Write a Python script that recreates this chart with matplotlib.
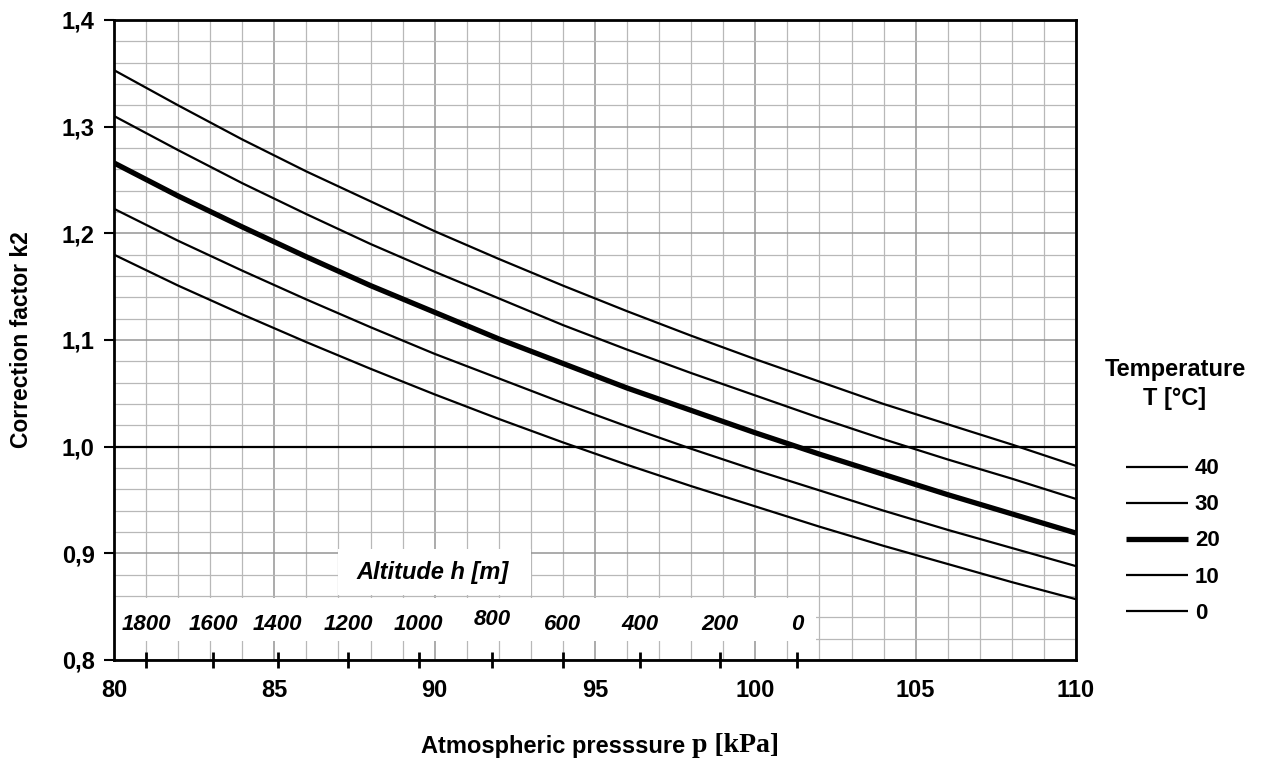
import numpy as np
import matplotlib.pyplot as plt
from matplotlib.patches import Rectangle
from matplotlib.ticker import MultipleLocator, FuncFormatter

# pressure values (kPa) where the curves were read
pressure = [80, 82, 84, 86, 88, 90, 92, 94, 96, 98, 100, 102, 104, 106, 108, 110]

# correction factor k2, one list per temperature
k2_t40 = [1.353, 1.320, 1.288, 1.258, 1.230, 1.202, 1.176, 1.151, 1.127, 1.104,
          1.082, 1.061, 1.040, 1.021, 1.002, 0.982]
k2_t30 = [1.310, 1.278, 1.247, 1.218, 1.190, 1.164, 1.139, 1.114, 1.091, 1.069,
          1.048, 1.027, 1.007, 0.988, 0.970, 0.951]
k2_t20 = [1.266, 1.235, 1.206, 1.178, 1.151, 1.126, 1.101, 1.078, 1.055, 1.034,
          1.013, 0.993, 0.974, 0.955, 0.937, 0.919]
k2_t10 = [1.223, 1.193, 1.165, 1.138, 1.112, 1.087, 1.064, 1.041, 1.019, 0.998,
          0.978, 0.959, 0.940, 0.922, 0.905, 0.888]
k2_t0 = [1.180, 1.151, 1.124, 1.098, 1.073, 1.049, 1.026, 1.004, 0.983, 0.963,
         0.944, 0.925, 0.907, 0.890, 0.873, 0.857]

temps = ['40', '30', '20', '10', '0']
curves = [k2_t40, k2_t30, k2_t20, k2_t10, k2_t0]
widths = [1.6, 1.6, 3.8, 1.6, 1.6]

# altitude scale along the bottom axis: pressure position of each altitude mark
altitude_labels = ['1800', '1600', '1400', '1200', '1000', '800', '600', '400', '200', '0']
altitude_p = [81.0, 83.1, 85.1, 87.3, 89.5, 91.8, 94.0, 96.4, 98.9, 101.3]

SANS = 'Liberation Sans'

fig = plt.figure(figsize=(12.65, 7.6), dpi=100)
ax = fig.add_axes([114 / 1265, 1 - 660 / 760, 962 / 1265, 640 / 760])
ax.set_xlim(80, 110)
ax.set_ylim(0.8, 1.4)

# grid paper
ax.xaxis.set_minor_locator(MultipleLocator(1))
ax.yaxis.set_minor_locator(MultipleLocator(0.02))
ax.xaxis.set_major_locator(MultipleLocator(5))
ax.yaxis.set_major_locator(MultipleLocator(0.1))
ax.grid(which='minor', color='#b8b8b8', lw=0.9, zorder=0)
ax.grid(which='major', color='#959595', lw=1.1, zorder=0)
ax.set_axisbelow(True)

# white patches behind the altitude annotations
ax.add_patch(Rectangle((80, 0.818), 21.9, 0.04, facecolor='white', edgecolor='none', zorder=1))
ax.add_patch(Rectangle((87.0, 0.861), 6.0, 0.043, facecolor='white', edgecolor='none', zorder=1))

ax.axhline(1.0, color='black', lw=1.6, zorder=3)

for t, k, w in zip(temps, curves, widths):
    ax.plot(pressure, k, color='black', lw=w, label=t, zorder=4,
            solid_capstyle='butt')

# altitude ticks and labels
ax.plot(altitude_p, [0.8] * len(altitude_p), ls='none', marker='|', ms=11,
        mew=2, color='black', clip_on=False, zorder=6)
for lab, p in zip(altitude_labels, altitude_p):
    y = 0.838 if lab == '800' else 0.833
    ax.text(p, y, lab, ha='center', va='center', fontsize=16, style='italic',
            fontweight='bold', family=SANS, zorder=5)
ax.text(89.95, 0.8825, 'Altitude h [m]', ha='center', va='center', fontsize=17,
        style='italic', fontweight='bold', family=SANS, zorder=5)

for s in ax.spines.values():
    s.set_linewidth(2.0)
    s.set_zorder(7)

ax.tick_params(axis='x', which='both', length=0, pad=14, labelsize=17)
ax.tick_params(axis='y', which='major', length=7, width=1.5, direction='out',
               pad=7, labelsize=17)
ax.tick_params(axis='y', which='minor', length=0)
ax.xaxis.set_major_formatter(FuncFormatter(lambda v, pos: f'{v:.0f}'))
ax.yaxis.set_major_formatter(FuncFormatter(lambda v, pos: f'{v:.1f}'.replace('.', ',')))
for lbl in ax.get_xticklabels() + ax.get_yticklabels():
    lbl.set_family(SANS)
    lbl.set_fontweight('bold')

ax.set_ylabel('Correction factor k2', fontsize=16.5, fontweight='bold', family=SANS)
ax.yaxis.set_label_coords((33 - 114) / 962, 0.5)

# x label: sans part + serif unit part
fig.text(692 / 1265, 1 - 746 / 760, 'Atmospheric presssure ', ha='right', va='center',
         fontsize=17, family=SANS, fontweight='bold')
fig.text(692 / 1265, 1 - 746 / 760, 'p [kPa]', ha='left', va='center',
         fontsize=20, family='Liberation Serif', fontweight='bold')

# temperature legend
fig.text(1175 / 1265, 1 - 384 / 760, 'Temperature\nT [°C]', ha='center', va='center',
         fontsize=17, family=SANS, fontweight='bold', linespacing=1.3)
leg = fig.legend(loc='center left', bbox_to_anchor=(1126 / 1265, 1 - 541 / 760),
                 frameon=False, handlelength=2.8, handletextpad=0.3,
                 labelspacing=0.68, borderpad=0, borderaxespad=0,
                 prop={'family': SANS, 'size': 16, 'weight': 'bold'})

fig.savefig('out.png', dpi=100)
